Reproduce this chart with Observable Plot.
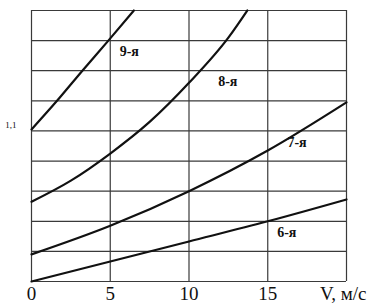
<!DOCTYPE html>
<html>
<head>
<meta charset="utf-8">
<script src="https://cdn.jsdelivr.net/npm/d3@7"></script>
<script src="https://cdn.jsdelivr.net/npm/@observablehq/plot@0.6"></script>
<style>
  html, body { margin: 0; padding: 0; background: #fff; }
  svg, svg text { font-family: "Liberation Serif", "Times New Roman", serif !important; }
</style>
</head>
<body>
<div id="chart"></div>
<script>
// Gear curves (V, м/с vs coefficient)
const gears = ["6-я", "7-я", "8-я", "9-я"];
const v6 = [0, 5, 10, 15, 20];
const k6 = [1.000, 1.0133, 1.0266, 1.040, 1.0545];
const v7 = [0, 5, 10, 15, 20];
const k7 = [1.018, 1.037, 1.060, 1.087, 1.119];
const v8 = [0, 2.5, 5, 7.5, 10, 12.5, 13.7];
const k8 = [1.053, 1.067, 1.085, 1.106, 1.132, 1.162, 1.18];
const v9 = [0, 1.62, 3.23, 4.88, 6.5];
const k9 = [1.101, 1.12, 1.14, 1.16, 1.18];

// Curve labels
const labelV = [15.6, 16.25, 11.85, 5.6];
const labelK = [1.0325, 1.0923, 1.133, 1.1525];

// Axis ticks
const xTicks = [0, 5, 10, 15];
const xTickLabels = ["0", "5", "10", "15"];
const xEndTick = 20;
const xEndLabel = "V, м/с";
const yGrid = [1.00, 1.02, 1.04, 1.06, 1.08, 1.10, 1.12, 1.14, 1.16, 1.18];
const xGrid = [0, 5, 10, 15, 20];
const yTicks = [1.1];
const yTickLabels = ["1,1"];

const series = [[v6, k6], [v7, k7], [v8, k8], [v9, k9]];
const rows = [];
series.forEach(([vs, ks], i) => vs.forEach((v, j) => rows.push({gear: gears[i], v, k: ks[j]})));
const labels = gears.map((g, i) => ({gear: g, v: labelV[i], k: labelK[i]}));

const font = "'Liberation Serif', 'Times New Roman', serif";

const chart = Plot.plot({
  width: 368,
  height: 305,
  marginLeft: 31,
  marginRight: 22,
  marginTop: 10,
  marginBottom: 24,
  style: {fontFamily: font, background: "#fff", color: "#111"},
  x: {domain: [0, 20], label: null},
  y: {domain: [1.0, 1.18], label: null},
  marks: [
    Plot.gridX(xGrid, {stroke: "#3a3a3a", strokeOpacity: 1, strokeWidth: 1.2}),
    Plot.gridY(yGrid, {stroke: "#3a3a3a", strokeOpacity: 1, strokeWidth: 1.2}),
    Plot.line(rows, {x: "v", y: "k", z: "gear", curve: "monotone-x", stroke: "#111", strokeWidth: 2.2, strokeLinecap: "round"}),
    Plot.text(labels, {x: "v", y: "k", text: "gear", textAnchor: "start", fontSize: 14, fontWeight: "bold", fill: "#111", fontFamily: font}),
    Plot.axisX(xTicks, {tickSize: 0, tickPadding: 5, fontSize: 19, tickFormat: (d, i) => xTickLabels[i], fill: "#111", fontFamily: font, label: null}),
    Plot.axisX([xEndTick], {tickSize: 0, tickPadding: 5, fontSize: 19, tickFormat: () => xEndLabel, textAnchor: "end", dx: 20, fill: "#111", fontFamily: font, label: null}),
    Plot.axisY(yTicks, {tickSize: 0, tickPadding: 15, fontSize: 9, dy: -6, tickFormat: (d, i) => yTickLabels[i], fill: "#111", fontFamily: font, label: null})
  ]
});
document.getElementById("chart").appendChild(chart);
</script>
</body>
</html>
